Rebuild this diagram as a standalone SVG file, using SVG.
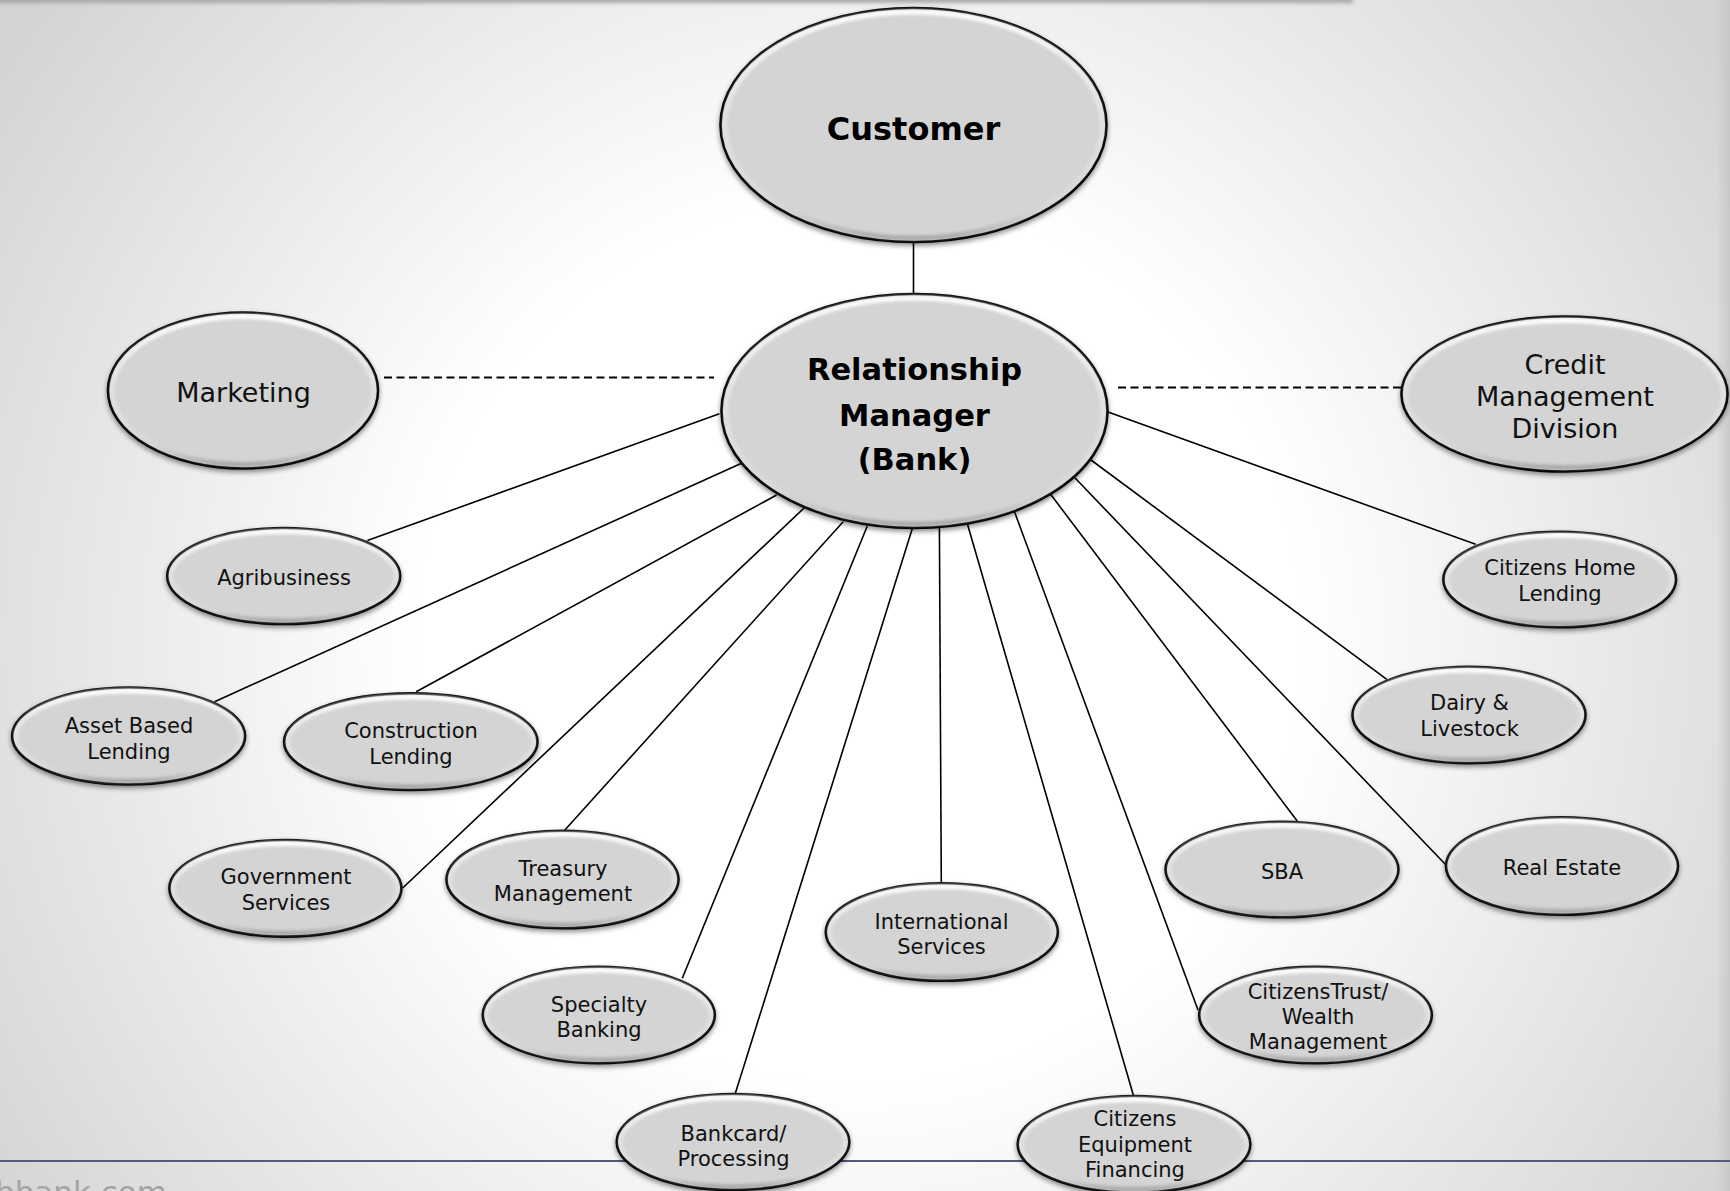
<svg xmlns="http://www.w3.org/2000/svg" width="1730" height="1191" viewBox="0 0 1730 1191">
<defs>
<radialGradient id="bg" gradientUnits="userSpaceOnUse" cx="860" cy="640" r="1050">
<stop offset="0" stop-color="#ffffff"/>
<stop offset="0.42" stop-color="#ffffff"/>
<stop offset="1" stop-color="#d3d3d3"/>
</radialGradient>
<linearGradient id="bevel" x1="0" y1="0" x2="0" y2="1">
<stop offset="0" stop-color="#ffffff" stop-opacity="0.95"/>
<stop offset="0.45" stop-color="#ffffff" stop-opacity="0.35"/>
<stop offset="0.8" stop-color="#ffffff" stop-opacity="0.15"/>
<stop offset="1" stop-color="#8a8a8a" stop-opacity="0.6"/>
</linearGradient>
<linearGradient id="edge" x1="0" y1="0" x2="1" y2="0">
<stop offset="0" stop-color="#c4c4c4" stop-opacity="0"/>
<stop offset="1" stop-color="#c4c4c4" stop-opacity="0.8"/>
</linearGradient>
<filter id="shadow" x="-10%" y="-15%" width="120%" height="135%">
<feDropShadow dx="0" dy="2.5" stdDeviation="2.5" flood-color="#000000" flood-opacity="0.45"/>
</filter>
<filter id="soft" x="-10%" y="-20%" width="120%" height="140%">
<feGaussianBlur stdDeviation="1.4"/>
</filter>
<filter id="topblur" x="-5%" y="-200%" width="110%" height="500%">
<feGaussianBlur stdDeviation="2"/>
</filter>
</defs>
<style>
.node { fill: #d4d4d4; stroke: #000000; stroke-width: 2.6; filter: url(#shadow); }
.bevel { fill: none; stroke: url(#bevel); stroke-width: 5; filter: url(#soft); }
.lbl { font-family: "DejaVu Sans", "Liberation Sans", sans-serif; font-size: 21px; fill: #111111; text-anchor: middle; }
.big { font-size: 27px; }
.cust { font-size: 32px; font-weight: bold; fill: #000000; }
.rm { font-size: 30.5px; font-weight: bold; fill: #000000; }
.footer { font-family: "DejaVu Sans", "Liberation Sans", sans-serif; font-size: 31px; fill: #a3a3a3; text-anchor: end; }
.conn line { stroke: #000000; stroke-width: 1.6; }
.conn .dash { stroke-width: 1.8; stroke-dasharray: 8 4.5; }
</style>

<rect x="0" y="0" width="1730" height="1191" fill="url(#bg)"/>
<rect x="1716" y="0" width="14" height="1191" fill="url(#edge)"/>
<rect x="-10" y="-6" width="1363" height="9" fill="#a8a8a8" filter="url(#topblur)"/>
<line x1="0" y1="1161" x2="1730" y2="1161" stroke="#4e5d7c" stroke-width="2.2"/>

<g id="connectors" class="conn">
<line x1="913.5" y1="242" x2="913.5" y2="294"/>
<line class="dash" x1="384" y1="377.5" x2="714" y2="377.5"/>
<line class="dash" x1="1118" y1="387.5" x2="1401" y2="387.5"/>
<line x1="719.4" y1="413.7" x2="367.4" y2="540.6"/>
<line x1="741.5" y1="463.3" x2="214.6" y2="701.7"/>
<line x1="776.6" y1="495" x2="416.2" y2="691.7"/>
<line x1="806.2" y1="506" x2="402.7" y2="888"/>
<line x1="843.2" y1="521.7" x2="564.2" y2="830.7"/>
<line x1="867.3" y1="526" x2="682.3" y2="978.3"/>
<line x1="912.4" y1="528.3" x2="734.8" y2="1095"/>
<line x1="939.4" y1="527" x2="941.3" y2="883.3"/>
<line x1="967.2" y1="523.3" x2="1133.6" y2="1096"/>
<line x1="1014.5" y1="511.7" x2="1198" y2="1010"/>
<line x1="1050.4" y1="494" x2="1297.2" y2="821"/>
<line x1="1074.4" y1="477.3" x2="1446" y2="865"/>
<line x1="1091" y1="460" x2="1386.8" y2="679.3"/>
<line x1="1106.6" y1="411.5" x2="1475.6" y2="544.3"/>
</g>

<g id="customer">
<ellipse class="node" cx="913.5" cy="125" rx="193" ry="117"/>
<ellipse class="bevel" cx="913.5" cy="125" rx="189" ry="113"/>
<text class="lbl cust" x="913.5" y="140">Customer</text>
</g>
<g id="relationship-manager">
<ellipse class="node" cx="914.5" cy="411" rx="193" ry="117"/>
<ellipse class="bevel" cx="914.5" cy="411" rx="189" ry="113"/>
<text class="lbl rm" x="914.5" y="380">Relationship</text>
<text class="lbl rm" x="914.5" y="425.5">Manager</text>
<text class="lbl rm" x="914.5" y="470">(Bank)</text>
</g>
<g id="marketing">
<ellipse class="node" cx="243" cy="390.5" rx="135" ry="78"/>
<ellipse class="bevel" cx="243" cy="390.5" rx="131" ry="74"/>
<text class="lbl big" x="243.5" y="402">Marketing</text>
</g>
<g id="credit-management">
<ellipse class="node" cx="1564.5" cy="394" rx="163" ry="77.5"/>
<ellipse class="bevel" cx="1564.5" cy="394" rx="159" ry="73.5"/>
<text class="lbl big" x="1565" y="374">Credit</text>
<text class="lbl big" x="1565" y="406">Management</text>
<text class="lbl big" x="1565" y="438">Division</text>
</g>
<g id="agribusiness">
<ellipse class="node" cx="283.7" cy="576" rx="116.5" ry="48"/>
<ellipse class="bevel" cx="283.7" cy="576" rx="113" ry="44.5"/>
<text class="lbl" x="284" y="585">Agribusiness</text>
</g>
<g id="asset-based-lending">
<ellipse class="node" cx="128.6" cy="736" rx="116.5" ry="48.5"/>
<ellipse class="bevel" cx="128.6" cy="736" rx="113" ry="45"/>
<text class="lbl" x="129" y="733">Asset Based</text>
<text class="lbl" x="129" y="759">Lending</text>
</g>
<g id="construction-lending">
<ellipse class="node" cx="410.8" cy="741.7" rx="126.7" ry="48.3"/>
<ellipse class="bevel" cx="410.8" cy="741.7" rx="123.2" ry="44.8"/>
<text class="lbl" x="411" y="738">Construction</text>
<text class="lbl" x="411" y="763.5">Lending</text>
</g>
<g id="government-services">
<ellipse class="node" cx="285.4" cy="888.3" rx="116" ry="48.3"/>
<ellipse class="bevel" cx="285.4" cy="888.3" rx="112.5" ry="44.8"/>
<text class="lbl" x="286" y="884">Government</text>
<text class="lbl" x="286" y="910">Services</text>
</g>
<g id="treasury-management">
<ellipse class="node" cx="562.5" cy="879.5" rx="116" ry="48.8"/>
<ellipse class="bevel" cx="562.5" cy="879.5" rx="112.5" ry="45.3"/>
<text class="lbl" x="563" y="876">Treasury</text>
<text class="lbl" x="563" y="901">Management</text>
</g>
<g id="specialty-banking">
<ellipse class="node" cx="598.8" cy="1015" rx="116" ry="48.3"/>
<ellipse class="bevel" cx="598.8" cy="1015" rx="112.5" ry="44.8"/>
<text class="lbl" x="599" y="1012">Specialty</text>
<text class="lbl" x="599" y="1037">Banking</text>
</g>
<g id="bankcard-processing">
<ellipse class="node" cx="733" cy="1142" rx="116.3" ry="48"/>
<ellipse class="bevel" cx="733" cy="1142" rx="112.8" ry="44.5"/>
<text class="lbl" x="733.5" y="1141">Bankcard/</text>
<text class="lbl" x="733.5" y="1166">Processing</text>
</g>
<g id="international-services">
<ellipse class="node" cx="941.8" cy="932" rx="116" ry="48.8"/>
<ellipse class="bevel" cx="941.8" cy="932" rx="112.5" ry="45.3"/>
<text class="lbl" x="941.5" y="928.5">International</text>
<text class="lbl" x="941.5" y="954">Services</text>
</g>
<g id="citizens-equipment-financing">
<ellipse class="node" cx="1134" cy="1144.3" rx="116.3" ry="48.3"/>
<ellipse class="bevel" cx="1134" cy="1144.3" rx="112.8" ry="44.8"/>
<text class="lbl" x="1135" y="1126">Citizens</text>
<text class="lbl" x="1135" y="1151.5">Equipment</text>
<text class="lbl" x="1135" y="1177">Financing</text>
</g>
<g id="citizenstrust-wealth-management">
<ellipse class="node" cx="1315.5" cy="1015" rx="116.3" ry="48.3"/>
<ellipse class="bevel" cx="1315.5" cy="1015" rx="112.8" ry="44.8"/>
<text class="lbl" x="1318" y="998.5">CitizensTrust/</text>
<text class="lbl" x="1318" y="1023.5">Wealth</text>
<text class="lbl" x="1318" y="1049">Management</text>
</g>
<g id="sba">
<ellipse class="node" cx="1282" cy="869.5" rx="116.4" ry="47.8"/>
<ellipse class="bevel" cx="1282" cy="869.5" rx="112.9" ry="44.3"/>
<text class="lbl" x="1282" y="879">SBA</text>
</g>
<g id="real-estate">
<ellipse class="node" cx="1562" cy="866" rx="116" ry="48.8"/>
<ellipse class="bevel" cx="1562" cy="866" rx="112.5" ry="45.3"/>
<text class="lbl" x="1562" y="875">Real Estate</text>
</g>
<g id="dairy-livestock">
<ellipse class="node" cx="1469" cy="715" rx="116.5" ry="48.3"/>
<ellipse class="bevel" cx="1469" cy="715" rx="113" ry="44.8"/>
<text class="lbl" x="1469.5" y="710">Dairy &amp;</text>
<text class="lbl" x="1469.5" y="736">Livestock</text>
</g>
<g id="citizens-home-lending">
<ellipse class="node" cx="1559.7" cy="579.5" rx="116.3" ry="47.8"/>
<ellipse class="bevel" cx="1559.7" cy="579.5" rx="112.8" ry="44.3"/>
<text class="lbl" x="1560" y="575">Citizens Home</text>
<text class="lbl" x="1560" y="601">Lending</text>
</g>

<text class="footer" x="167" y="1203">cbbank.com</text>
</svg>
